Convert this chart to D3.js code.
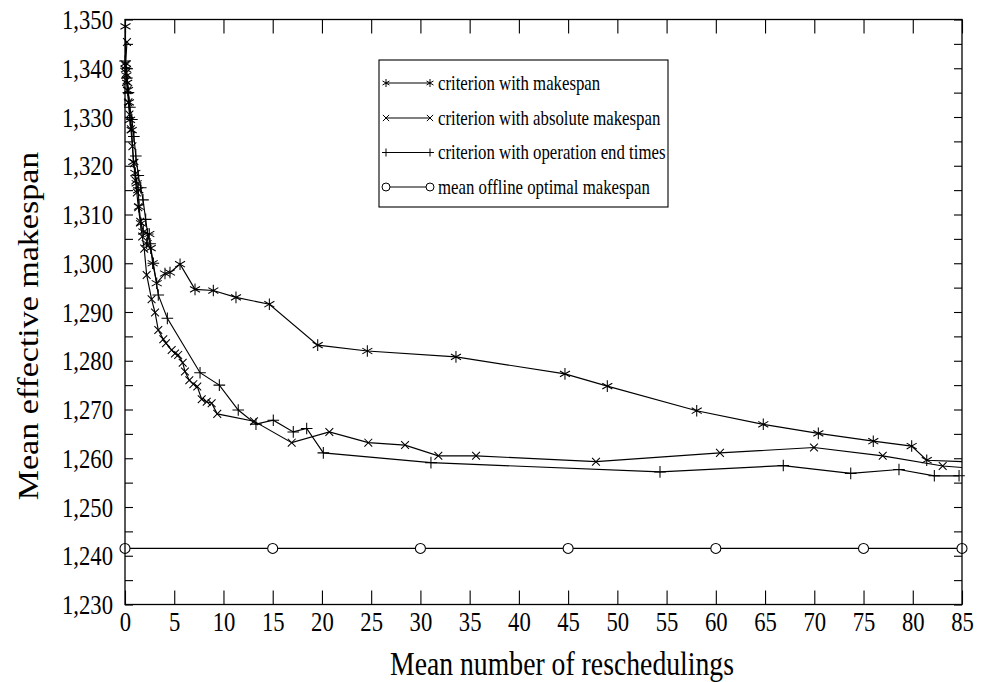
<!DOCTYPE html>
<html>
<head>
<meta charset="utf-8">
<script src="https://cdn.jsdelivr.net/npm/d3@7"></script>
<style>
  html, body { margin: 0; padding: 0; background: #fff; }
  svg { display: block; }
  text { font-family: "Liberation Serif", "Times New Roman", serif; fill: #000; }
</style>
</head>
<body>
<svg id="chart" width="984" height="682"></svg>
<script>
// ---- tick values ----
const xTicks = d3.range(0, 86, 5);
const yTicks = d3.range(1230, 1351, 10);
const yMinorTicks = d3.range(1235, 1350, 10);

// ---- series: criterion with makespan ----
const makespanX = [0.05,0.05,0.1,0.15,0.22,0.3,0.4,0.51,0.68,0.85,1.05,1.19,1.35,1.42,1.62,1.86,2.47,2.2,2.61,2.81,3.22,4.06,4.57,5.59,7.11,8.97,11.27,14.66,19.57,24.61,33.61,44.68,48.98,58.06,64.82,70.41,75.99,79.89,81.42,88];
const makespanY = [1348.6,1341.0,1339.8,1338.5,1337.0,1335.5,1333.0,1329.4,1327.3,1320.8,1318.5,1316.4,1315.0,1311.6,1308.2,1306.5,1306.0,1304.1,1303.1,1300.0,1295.9,1297.9,1298.1,1299.8,1294.65,1294.4,1293.0,1291.6,1283.2,1282.0,1280.8,1277.3,1274.8,1269.75,1266.96,1265.1,1263.5,1262.5,1259.6,1259.05];

// ---- series: criterion with absolute makespan ----
const absoluteX = [0.2,0.05,0.1,0.15,0.25,0.35,0.45,0.6,0.75,0.9,1.05,1.2,1.35,1.55,1.75,1.95,2.2,2.7,3.05,3.38,3.89,4.16,4.74,5.08,5.4,5.86,6.09,6.53,6.94,7.34,7.79,8.3,8.8,9.37,13.1,16.93,20.75,24.71,28.44,31.82,35.65,47.83,60.42,69.97,76.95,83.04,88];
const absoluteY = [1345.4,1340.5,1339.0,1337.5,1335.5,1333.0,1330.5,1327.5,1324.0,1320.5,1317.0,1314.5,1311.5,1308.5,1305.5,1303.0,1297.6,1292.6,1289.9,1286.3,1284.4,1283.6,1282.2,1281.5,1281.2,1279.6,1277.8,1276.0,1275.2,1274.7,1272.1,1271.6,1271.3,1269.1,1267.6,1263.2,1265.4,1263.2,1262.7,1260.5,1260.5,1259.3,1261.1,1262.2,1260.5,1258.4,1257.65];

// ---- series: criterion with operation end times ----
const endTimesX = [0.0,0.1,0.2,0.35,0.5,0.7,0.9,1.1,1.35,1.6,1.83,2.1,2.3,2.55,2.88,3.38,4.3,7.62,9.58,11.5,13.3,15.06,17.09,18.45,20.14,31.07,54.33,66.85,73.7,78.6,82.19,84.7];
const endTimesY = [1341.5,1340.0,1338.0,1335.0,1332.0,1329.5,1326.0,1322.0,1318.0,1315.5,1313.0,1309.0,1306.0,1304.0,1300.0,1293.5,1288.7,1277.55,1275.0,1269.9,1267.0,1267.8,1265.4,1266.1,1261.1,1259.1,1257.2,1258.5,1256.9,1257.7,1256.4,1256.4];

// ---- series: mean offline optimal makespan ----
const optimalX = [0, 15, 30, 45, 60, 75, 85];
const optimalY = [1241.5, 1241.5, 1241.5, 1241.5, 1241.5, 1241.5, 1241.5];

const seriesNames = [
  "criterion with makespan",
  "criterion with absolute makespan",
  "criterion with operation end times",
  "mean offline optimal makespan"
];

const zip = (xs, ys) => xs.map((v, i) => ({x: v, y: ys[i]}));
const series = [
  {name: seriesNames[0], mark: "asterisk", pts: zip(makespanX, makespanY)},
  {name: seriesNames[1], mark: "cross",    pts: zip(absoluteX, absoluteY)},
  {name: seriesNames[2], mark: "plus",     pts: zip(endTimesX, endTimesY)},
  {name: seriesNames[3], mark: "circle",   pts: zip(optimalX, optimalY)}
];

// ---- layout ----
const L = 125, R = 962, T = 19.5, B = 604.5;
const TXT = 0.84;   // horizontal squeeze of the serif glyphs

const svg = d3.select("#chart");
const x = d3.scaleLinear().domain([0, 85]).range([L, R]);
const y = d3.scaleLinear().domain([1230, 1350]).range([B, T]);

// marker shapes (path strings centred on 0,0)
function markPath(kind, r) {
  if (kind === "asterisk") {
    const a = r * Math.cos(Math.PI / 6), b = r * Math.sin(Math.PI / 6);
    return `M0,${-r}L0,${r}M${-a},${-b}L${a},${b}M${-a},${b}L${a},${-b}`;
  }
  if (kind === "cross") {
    const c = r * 0.78;
    return `M${-c},${-c}L${c},${c}M${-c},${c}L${c},${-c}`;
  }
  if (kind === "plus") {
    return `M${-r},0L${r},0M0,${-r}L0,${r}`;
  }
  return `M${r},0A${r},${r} 0 1 1 ${-r},0A${r},${r} 0 1 1 ${r},0Z`;
}

// clip region for the plotted lines
svg.append("defs").append("clipPath").attr("id", "plotclip")
  .append("rect").attr("x", L).attr("y", T).attr("width", R - L).attr("height", B - T);

// ---- axes (ticks point inward) ----
const xAxisB = d3.axisBottom(x).tickValues(xTicks).tickSizeInner(-14).tickSizeOuter(0).tickPadding(7);
const xAxisT = d3.axisTop(x).tickValues(xTicks).tickSizeInner(-14).tickSizeOuter(0).tickFormat("");
const yAxisL = d3.axisLeft(y).tickValues(yTicks).tickSizeInner(-8).tickSizeOuter(0).tickPadding(12).tickFormat(d3.format(","));
const yAxisLm = d3.axisLeft(y).tickValues(yMinorTicks).tickSizeInner(-8).tickSizeOuter(0).tickFormat("");
const yAxisR = d3.axisRight(y).tickValues(yTicks).tickSizeInner(-8).tickSizeOuter(0).tickFormat("");
const yAxisRm = d3.axisRight(y).tickValues(yMinorTicks).tickSizeInner(-8).tickSizeOuter(0).tickFormat("");

function styleAxis(g) {
  g.select(".domain").remove();
  g.selectAll(".tick line").attr("stroke", "#000").attr("stroke-width", 1.1);
}

const gxb = svg.append("g").attr("transform", `translate(0,${B})`).call(xAxisB).call(styleAxis);
gxb.selectAll(".tick text")
  .attr("font-size", 27)
  .attr("transform", `scale(${TXT},1)`)
  .attr("x", 0);
svg.append("g").attr("transform", `translate(0,${T})`).call(xAxisT).call(styleAxis);

const gyl = svg.append("g").attr("transform", `translate(${L},0)`).call(yAxisL).call(styleAxis);
gyl.selectAll(".tick text")
  .attr("font-size", 27)
  .attr("transform", `scale(${TXT},1)`)
  .attr("x", -12 / TXT).attr("dy", "0.34em");
svg.append("g").attr("transform", `translate(${L},0)`).call(yAxisLm).call(styleAxis);
svg.append("g").attr("transform", `translate(${R},0)`).call(yAxisR).call(styleAxis);
svg.append("g").attr("transform", `translate(${R},0)`).call(yAxisRm).call(styleAxis);

// ---- series lines and markers ----
const line = d3.line().x(d => x(d.x)).y(d => y(d.y));
const plot = svg.append("g");
series.forEach(s => {
  plot.append("path").datum(s.pts)
    .attr("clip-path", "url(#plotclip)")
    .attr("d", line)
    .attr("fill", "none").attr("stroke", "#000").attr("stroke-width", 1.15);
  const r = s.mark === "circle" ? 5 : (s.mark === "cross" ? 5 : 5.8);
  plot.selectAll(null).data(s.pts.filter(d => d.x <= 85)).enter().append("path")
    .attr("transform", d => `translate(${x(d.x)},${y(d.y)})`)
    .attr("d", markPath(s.mark, r))
    .attr("fill", s.mark === "circle" ? "#fff" : "none")
    .attr("stroke", "#000").attr("stroke-width", 1.05);
});

// ---- frame ----
svg.append("rect").attr("x", L).attr("y", T).attr("width", R - L).attr("height", B - T)
  .attr("fill", "none").attr("stroke", "#000").attr("stroke-width", 1.3);

// ---- axis titles ----
svg.append("text")
  .attr("transform", `translate(562,675) scale(${TXT},1)`)
  .attr("text-anchor", "middle").attr("font-size", 33)
  .text("Mean number of reschedulings");
svg.append("text")
  .attr("transform", `translate(38,326) rotate(-90) scale(1,${TXT})`)
  .attr("text-anchor", "middle").attr("font-size", 34)
  .text("Mean effective makespan");

// ---- legend ----
const lg = svg.append("g");
lg.append("rect").attr("x", 379).attr("y", 60).attr("width", 289).attr("height", 147)
  .attr("fill", "#fff").attr("stroke", "#000").attr("stroke-width", 1.1);
const rowY = [83, 118, 152.5, 187];
series.forEach((s, i) => {
  const yy = rowY[i];
  lg.append("line").attr("x1", 386).attr("x2", 430).attr("y1", yy).attr("y2", yy)
    .attr("stroke", "#000").attr("stroke-width", 1.1);
  [386, 430].forEach(xx => {
    lg.append("path").attr("transform", `translate(${xx},${yy})`)
      .attr("d", markPath(s.mark, 4))
      .attr("fill", s.mark === "circle" ? "#fff" : "none")
      .attr("stroke", "#000").attr("stroke-width", 1);
  });
  lg.append("text")
    .attr("transform", `translate(438,${yy}) scale(${TXT},1)`)
    .attr("dy", "0.33em").attr("font-size", 20)
    .text(s.name);
});
</script>
</body>
</html>
